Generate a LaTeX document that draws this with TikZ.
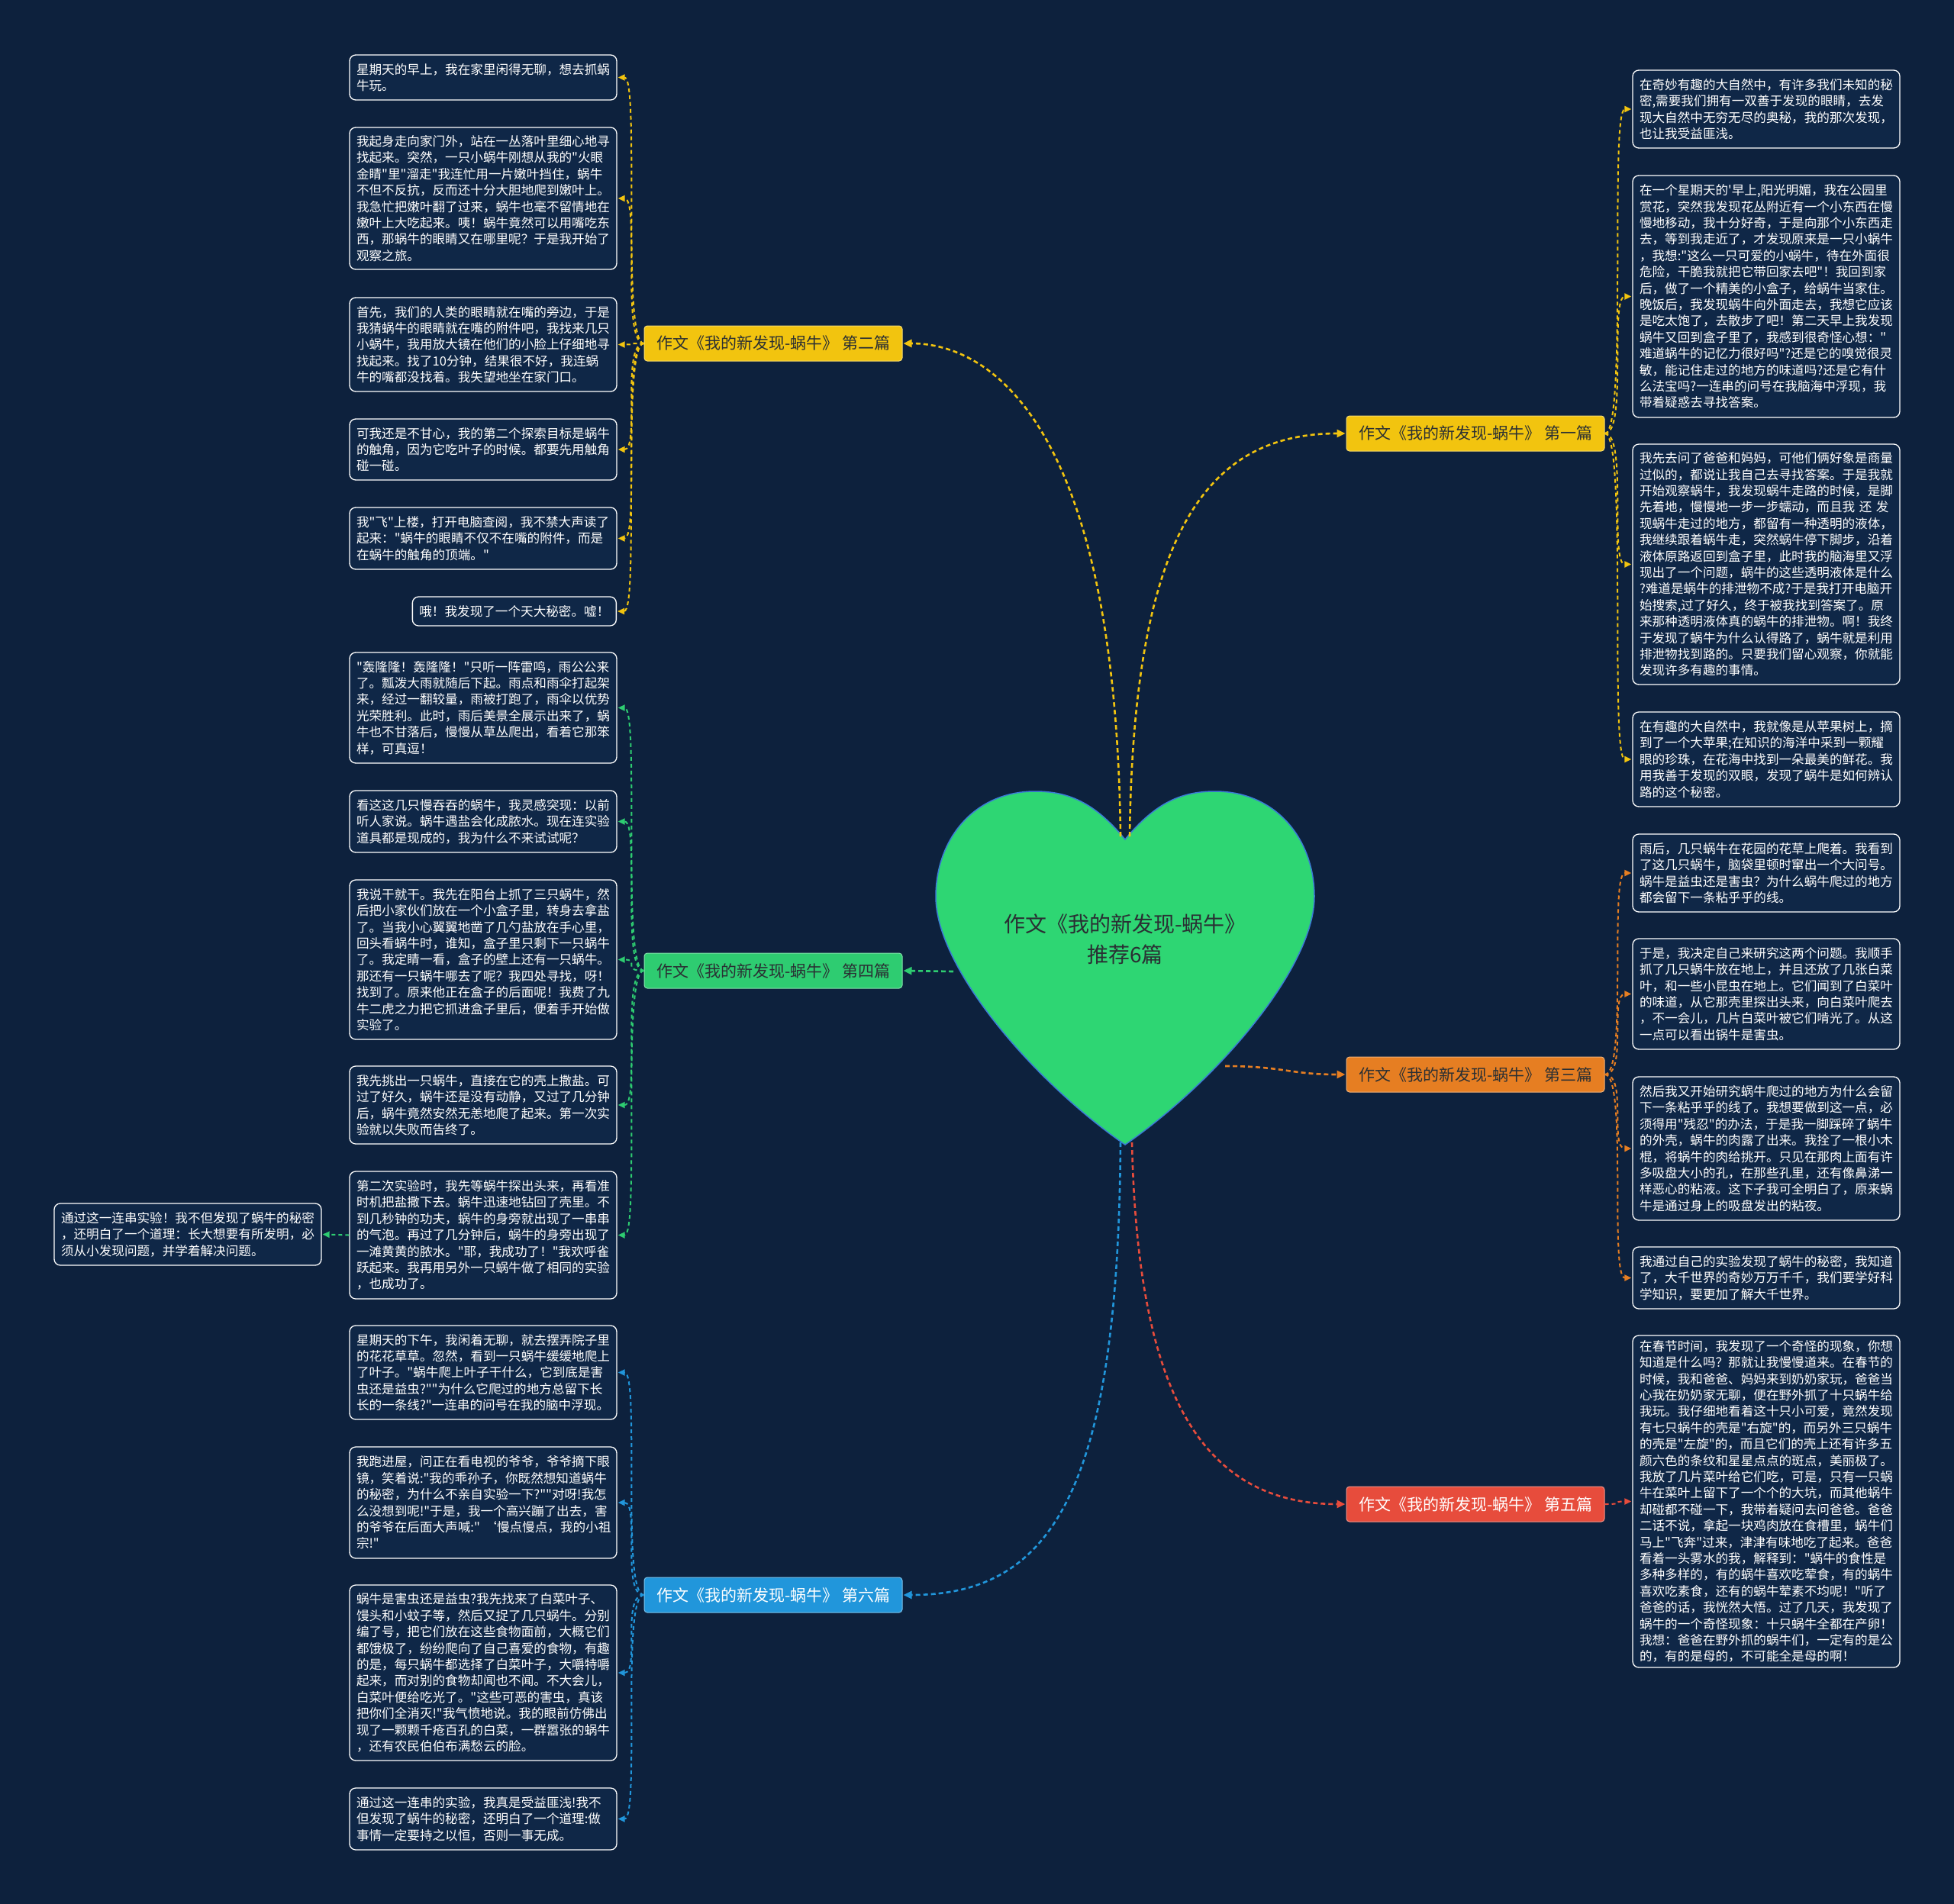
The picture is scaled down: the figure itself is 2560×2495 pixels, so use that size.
\documentclass[tikz,border=0pt]{standalone}
\usepackage{fontspec}
\setmainfont{Noto Sans CJK SC}[Ligatures=TeXOff]
\usetikzlibrary{arrows.meta}
\definecolor{bg}{HTML}{0D213D}
\definecolor{boxc}{HTML}{0F2747}
\definecolor{cyel}{HTML}{F2C40F}
\definecolor{cora}{HTML}{E67E22}
\definecolor{cgre}{HTML}{2ECC71}
\definecolor{cred}{HTML}{E74C3C}
\definecolor{cblu}{HTML}{2196DB}
\definecolor{heartc}{HTML}{2ED673}
\definecolor{heartb}{HTML}{3A7BD5}
\definecolor{darktxt}{HTML}{2A2F33}
\tikzset{
  tbox/.style={draw=white, line width=1.3pt, rounded corners=8pt, fill=boxc, text=white,
    font=\fontsize{16.6}{21.4}\selectfont, text width=332pt, align=left, inner xsep=9pt, inner ysep=4pt},
  sbox/.style={draw=white, line width=1.3pt, rounded corners=8pt, fill=boxc, text=white,
    font=\fontsize{16.6}{21.4}\selectfont, inner xsep=9pt, inner ysep=4pt},
  lab/.style={rounded corners=4pt, minimum width=338pt, minimum height=46pt, line width=1pt,
    font=\fontsize{21}{25}\selectfont, inner sep=0pt},
  conn/.style={dash pattern=on 5pt off 4pt, line width=2pt, -{Triangle[length=9pt,width=8pt]}, shorten >=1pt},
  mconn/.style={dash pattern=on 6pt off 4pt, line width=2.6pt, -{Triangle[length=11pt,width=10pt]}, shorten >=1pt}
}
\begin{document}
\begin{tikzpicture}[x=1pt,y=-1pt]
\fill[bg] (0,0) rectangle (2560,2495);
\useasboundingbox (0,0) rectangle (2560,2495);

% heart
\draw[fill=heartc, draw=heartb, line width=1.5pt] (1474,1100) .. controls (1515,1050) and (1550,1037) .. (1592,1037)
  .. controls (1672,1037) and (1722,1100) .. (1722,1175)
  .. controls (1722,1270) and (1590,1420) .. (1474,1500)
  .. controls (1358,1420) and (1226,1270) .. (1226,1175)
  .. controls (1226,1100) and (1276,1037) .. (1356,1037)
  .. controls (1398,1037) and (1433,1050) .. (1474,1100) -- cycle;
\node[font=\fontsize{28}{40}\selectfont, text=darktxt, align=center] (center) at (1474,1231) {作文《我的新发现-蜗牛》\\推荐6篇};
\coordinate (hA) at (1468,1096);
\coordinate (hB) at (1480,1096);
\coordinate (hL) at (1249,1273);
\coordinate (hR) at (1605,1397);
\coordinate (hC) at (1468,1497);
\coordinate (hD) at (1483,1497);

% level-1 labels
\node[lab, fill=cyel, draw=cyel!60!white, text=darktxt] (lab2) at (1013,450) {作文《我的新发现-蜗牛》 第二篇};
\node[lab, fill=cyel, draw=cyel!60!white, text=darktxt] (lab1) at (1933,568) {作文《我的新发现-蜗牛》 第一篇};
\node[lab, fill=cgre, draw=cgre!60!white, text=darktxt] (lab4) at (1013,1272) {作文《我的新发现-蜗牛》 第四篇};
\node[lab, fill=cora, draw=cora!60!white, text=darktxt] (lab3) at (1933,1408) {作文《我的新发现-蜗牛》 第三篇};
\node[lab, fill=cred, draw=cred!60!white, text=white] (lab5) at (1933,1971) {作文《我的新发现-蜗牛》 第五篇};
\node[lab, fill=cblu, draw=cblu!60!white, text=white] (lab6) at (1013,2090) {作文《我的新发现-蜗牛》 第六篇};

% main connectors
\draw[mconn, cyel] (hA) .. controls (1462,560) and (1300,450) .. (lab2.east);
\draw[mconn, cyel] (hB) .. controls (1485,700) and (1580,568) .. (lab1.west);
\draw[mconn, cgre] (hL) -- (lab4.east);
\draw[mconn, cora] (hR) .. controls (1680,1397) and (1690,1408) .. (lab3.west);
\draw[mconn, cred] (hD) .. controls (1490,1800) and (1560,1971) .. (lab5.west);
\draw[mconn, cblu] (hC) .. controls (1465,1950) and (1380,2090) .. (lab6.east);

% left column: 第二篇
\node[tbox, minimum height=59pt] (L1) at (633,101.5) {星期天的早上，我在家里闲得无聊，想去抓蜗\\牛玩。};
\node[tbox, minimum height=186pt] (L2) at (633,260) {我起身走向家门外，站在一丛落叶里细心地寻\\找起来。突然，一只小蜗牛刚想从我的"火眼\\金睛"里"溜走"我连忙用一片嫩叶挡住，蜗牛\\不但不反抗，反而还十分大胆地爬到嫩叶上。\\我急忙把嫩叶翻了过来，蜗牛也毫不留情地在\\嫩叶上大吃起来。咦！蜗牛竟然可以用嘴吃东\\西，那蜗牛的眼睛又在哪里呢？于是我开始了\\观察之旅。};
\node[tbox, minimum height=123pt] (L3) at (633,451.5) {首先，我们的人类的眼睛就在嘴的旁边，于是\\我猜蜗牛的眼睛就在嘴的附件吧，我找来几只\\小蜗牛，我用放大镜在他们的小脸上仔细地寻\\找起来。找了10分钟，结果很不好，我连蜗\\牛的嘴都没找着。我失望地坐在家门口。};
\node[tbox, minimum height=80pt] (L4) at (633,589) {可我还是不甘心，我的第二个探索目标是蜗牛\\的触角，因为它吃叶子的时候。都要先用触角\\碰一碰。};
\node[tbox, minimum height=81pt] (L5) at (633,705.5) {我"飞"上楼，打开电脑查阅，我不禁大声读了\\起来："蜗牛的眼睛不仅不在嘴的附件，而是\\在蜗牛的触角的顶端。"};
\node[sbox, minimum height=38pt, anchor=east] (L6) at (808,801) {哦！我发现了一个天大秘密。嘘！};

% left column: 第四篇
\node[tbox, minimum height=145pt] (L7) at (633,927.5) {"轰隆隆！轰隆隆！"只听一阵雷鸣，雨公公来\\了。瓢泼大雨就随后下起。雨点和雨伞打起架\\来，经过一翻较量，雨被打跑了，雨伞以优势\\光荣胜利。此时，雨后美景全展示出来了，蜗\\牛也不甘落后，慢慢从草丛爬出，看着它那笨\\样，可真逗！};
\node[tbox, minimum height=81pt] (L8) at (633,1076.5) {看这这几只慢吞吞的蜗牛，我灵感突现：以前\\听人家说。蜗牛遇盐会化成脓水。现在连实验\\道具都是现成的，我为什么不来试试呢？};
\node[tbox, minimum height=209pt] (L9) at (633,1257.5) {我说干就干。我先在阳台上抓了三只蜗牛，然\\后把小家伙们放在一个小盒子里，转身去拿盐\\了。当我小心翼翼地凿了几勺盐放在手心里，\\回头看蜗牛时，谁知，盒子里只剩下一只蜗牛\\了。我定睛一看，盒子的壁上还有一只蜗牛。\\那还有一只蜗牛哪去了呢？我四处寻找，呀！\\找到了。原来他正在盒子的后面呢！我费了九\\牛二虎之力把它抓进盒子里后，便着手开始做\\实验了。};
\node[tbox, minimum height=102pt] (L10) at (633,1448) {我先挑出一只蜗牛，直接在它的壳上撒盐。可\\过了好久，蜗牛还是没有动静，又过了几分钟\\后，蜗牛竟然安然无恙地爬了起来。第一次实\\验就以失败而告终了。};
\node[tbox, minimum height=167pt] (L11) at (633,1618.5) {第二次实验时，我先等蜗牛探出头来，再看准\\时机把盐撒下去。蜗牛迅速地钻回了壳里。不\\到几秒钟的功夫，蜗牛的身旁就出现了一串串\\的气泡。再过了几分钟后，蜗牛的身旁出现了\\一滩黄黄的脓水。"耶，我成功了！"我欢呼雀\\跃起来。我再用另外一只蜗牛做了相同的实验\\，也成功了。};
\node[tbox, minimum height=81pt] (L12) at (246,1617.5) {通过这一连串实验！我不但发现了蜗牛的秘密\\，还明白了一个道理：长大想要有所发明，必\\须从小发现问题，并学着解决问题。};

% left column: 第六篇
\node[tbox, minimum height=123pt] (L13) at (633,1798.5) {星期天的下午，我闲着无聊，就去摆弄院子里\\的花花草草。忽然，看到一只蜗牛缓缓地爬上\\了叶子。"蜗牛爬上叶子干什么，它到底是害\\虫还是益虫?""为什么它爬过的地方总留下长\\长的一条线?"一连串的问号在我的脑中浮现。};
\node[tbox, minimum height=146pt] (L14) at (633,1969) {我跑进屋，问正在看电视的爷爷，爷爷摘下眼\\镜，笑着说:"我的乖孙子，你既然想知道蜗牛\\的秘密，为什么不亲自实验一下?""对呀!我怎\\么没想到呢!"于是，我一个高兴蹦了出去，害\\的爷爷在后面大声喊:"~‘慢点慢点，我的小祖\\宗!"};
\node[tbox, minimum height=230pt] (L15) at (633,2192) {蜗牛是害虫还是益虫?我先找来了白菜叶子、\\馒头和小蚊子等，然后又捉了几只蜗牛。分别\\编了号，把它们放在这些食物面前，大概它们\\都饿极了，纷纷爬向了自己喜爱的食物，有趣\\的是，每只蜗牛都选择了白菜叶子，大嚼特嚼\\起来，而对别的食物却闻也不闻。不大会儿，\\白菜叶便给吃光了。"这些可恶的害虫，真该\\把你们全消灭!"我气愤地说。我的眼前仿佛出\\现了一颗颗千疮百孔的白菜，一群嚣张的蜗牛\\，还有农民伯伯布满愁云的脸。};
\node[tbox, minimum height=81pt] (L16) at (633,2383.5) {通过这一连串的实验，我真是受益匪浅!我不\\但发现了蜗牛的秘密，还明白了一个道理:做\\事情一定要持之以恒，否则一事无成。};

% right column
\node[tbox, minimum height=102pt] (R1) at (2314,143) {在奇妙有趣的大自然中，有许多我们未知的秘\\密,需要我们拥有一双善于发现的眼睛，去发\\现大自然中无穷无尽的奥秘，我的那次发现，\\也让我受益匪浅。};
\node[tbox, minimum height=317pt] (R2) at (2314,388.5) {在一个星期天的'早上,阳光明媚，我在公园里\\赏花，突然我发现花丛附近有一个小东西在慢\\慢地移动，我十分好奇，于是向那个小东西走\\去，等到我走近了，才发现原来是一只小蜗牛\\，我想:"这么一只可爱的小蜗牛，待在外面很\\危险，干脆我就把它带回家去吧"！我回到家\\后，做了一个精美的小盒子，给蜗牛当家住。\\晚饭后，我发现蜗牛向外面走去，我想它应该\\是吃太饱了，去散步了吧！第二天早上我发现\\蜗牛又回到盒子里了，我感到很奇怪心想："\\难道蜗牛的记忆力很好吗"?还是它的嗅觉很灵\\敏，能记住走过的地方的味道吗?还是它有什\\么法宝吗?一连串的问号在我脑海中浮现，我\\带着疑惑去寻找答案。};
\node[tbox, minimum height=315pt] (R3) at (2314,739.5) {我先去问了爸爸和妈妈，可他们俩好象是商量\\过似的，都说让我自己去寻找答案。于是我就\\开始观察蜗牛，我发现蜗牛走路的时候，是脚\\先着地，慢慢地一步一步蠕动，而且我~还~发\\现蜗牛走过的地方，都留有一种透明的液体，\\我继续跟着蜗牛走，突然蜗牛停下脚步，沿着\\液体原路返回到盒子里，此时我的脑海里又浮\\现出了一个问题，蜗牛的这些透明液体是什么\\?难道是蜗牛的排泄物不成?于是我打开电脑开\\始搜索,过了好久，终于被我找到答案了。原\\来那种透明液体真的蜗牛的排泄物。啊！我终\\于发现了蜗牛为什么认得路了，蜗牛就是利用\\排泄物找到路的。只要我们留心观察，你就能\\发现许多有趣的事情。};
\node[tbox, minimum height=124pt] (R4) at (2314,995) {在有趣的大自然中，我就像是从苹果树上，摘\\到了一个大苹果;在知识的海洋中采到一颗耀\\眼的珍珠，在花海中找到一朵最美的鲜花。我\\用我善于发现的双眼，发现了蜗牛是如何辨认\\路的这个秘密。};
\node[tbox, minimum height=102pt] (R5) at (2314,1144) {雨后，几只蜗牛在花园的花草上爬着。我看到\\了这几只蜗牛，脑袋里顿时窜出一个大问号。\\蜗牛是益虫还是害虫？为什么蜗牛爬过的地方\\都会留下一条粘乎乎的线。};
\node[tbox, minimum height=145pt] (R6) at (2314,1302.5) {于是，我决定自己来研究这两个问题。我顺手\\抓了几只蜗牛放在地上，并且还放了几张白菜\\叶，和一些小昆虫在地上。它们闻到了白菜叶\\的味道，从它那壳里探出头来，向白菜叶爬去\\，不一会儿，几片白菜叶被它们啃光了。从这\\一点可以看出锅牛是害虫。};
\node[tbox, minimum height=188pt] (R7) at (2314,1505) {然后我又开始研究蜗牛爬过的地方为什么会留\\下一条粘乎乎的线了。我想要做到这一点，必\\须得用"残忍"的办法，于是我一脚踩碎了蜗牛\\的外壳，蜗牛的肉露了出来。我拴了一根小木\\棍，将蜗牛的肉给挑开。只见在那肉上面有许\\多吸盘大小的孔，在那些孔里，还有像鼻涕一\\样恶心的粘液。这下子我可全明白了，原来蜗\\牛是通过身上的吸盘发出的粘夜。};
\node[tbox, minimum height=81pt] (R8) at (2314,1674.5) {我通过自己的实验发现了蜗牛的秘密，我知道\\了，大千世界的奇妙万万千千，我们要学好科\\学知识，要更加了解大千世界。};
\node[tbox, minimum height=435pt] (R9) at (2314,1967.5) {在春节时间，我发现了一个奇怪的现象，你想\\知道是什么吗？那就让我慢慢道来。在春节的\\时候，我和爸爸、妈妈来到奶奶家玩，爸爸当\\心我在奶奶家无聊，便在野外抓了十只蜗牛给\\我玩。我仔细地看着这十只小可爱，竟然发现\\有七只蜗牛的壳是"右旋"的，而另外三只蜗牛\\的壳是"左旋"的，而且它们的壳上还有许多五\\颜六色的条纹和星星点点的斑点，美丽极了。\\我放了几片菜叶给它们吃，可是，只有一只蜗\\牛在菜叶上留下了一个个的大坑，而其他蜗牛\\却碰都不碰一下，我带着疑问去问爸爸。爸爸\\二话不说，拿起一块鸡肉放在食槽里，蜗牛们\\马上"飞奔"过来，津津有味地吃了起来。爸爸\\看着一头雾水的我，解释到："蜗牛的食性是\\多种多样的，有的蜗牛喜欢吃荤食，有的蜗牛\\喜欢吃素食，还有的蜗牛荤素不均呢！"听了\\爸爸的话，我恍然大悟。过了几天，我发现了\\蜗牛的一个奇怪现象：十只蜗牛全都在产卵！\\我想：爸爸在野外抓的蜗牛们，一定有的是公\\的，有的是母的，不可能全是母的啊！};

% level-2 connectors, left
\foreach \c in {L1,L2,L3,L4,L5,L6}
  \draw[conn, cyel] (lab2.west) .. controls +(-30,0) and +(30,0) .. (\c.east);
\foreach \c in {L7,L8,L9,L10,L11}
  \draw[conn, cgre] (lab4.west) .. controls +(-30,0) and +(30,0) .. (\c.east);
\draw[conn, cgre] (L11.west) -- (L12.east);
\foreach \c in {L13,L14,L15,L16}
  \draw[conn, cblu] (lab6.west) .. controls +(-30,0) and +(30,0) .. (\c.east);
% level-2 connectors, right
\foreach \c in {R1,R2,R3,R4}
  \draw[conn, cyel] (lab1.east) .. controls +(30,0) and +(-30,0) .. (\c.west);
\foreach \c in {R5,R6,R7,R8}
  \draw[conn, cora] (lab3.east) .. controls +(30,0) and +(-30,0) .. (\c.west);
\draw[conn, cred] (lab5.east) .. controls +(30,0) and +(-30,0) .. (R9.west);
\end{tikzpicture}
\end{document}
